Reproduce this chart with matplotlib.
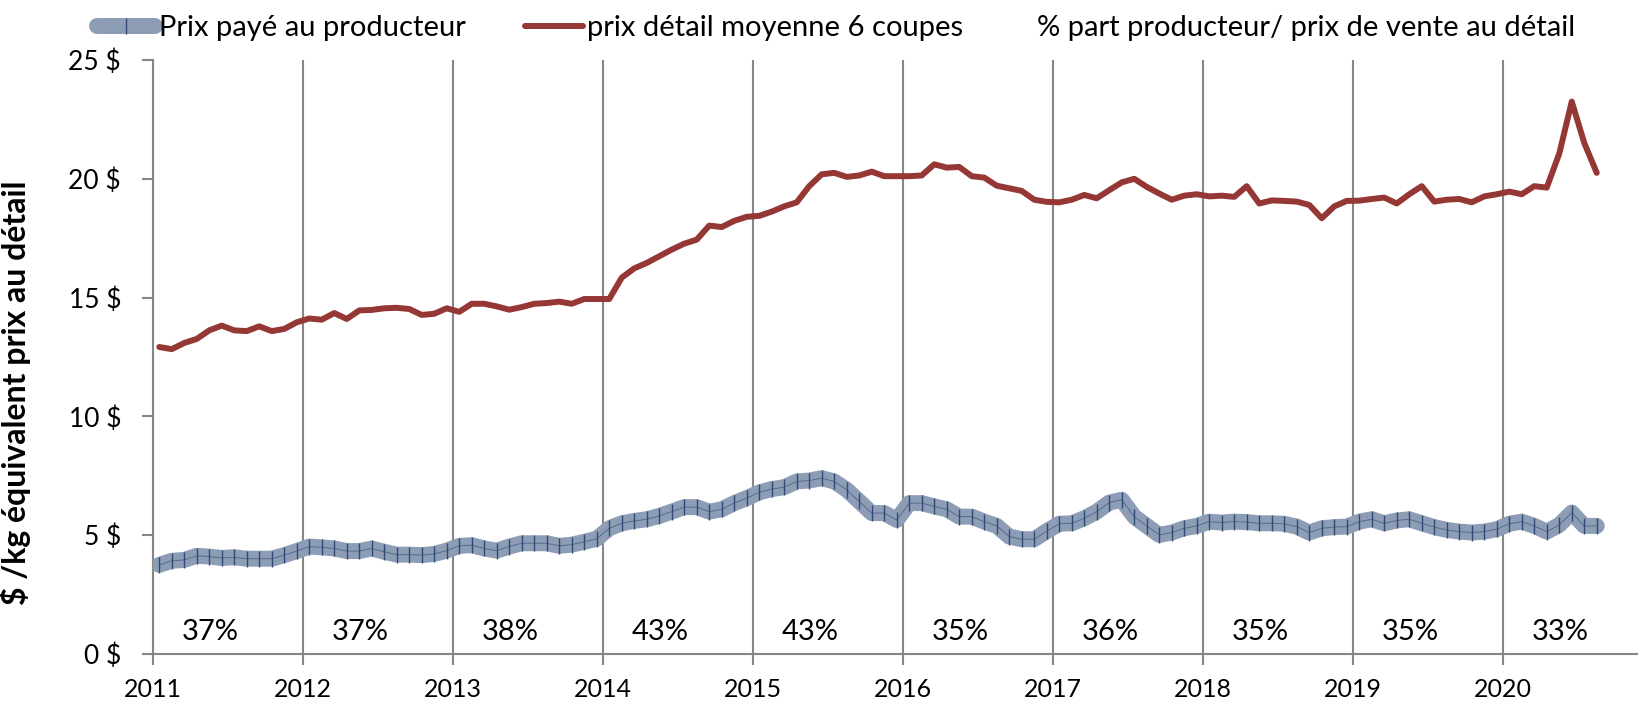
import numpy as np
import matplotlib
matplotlib.use("Agg")
import matplotlib.pyplot as plt

plt.rcParams['font.family'] = ['Lato', 'DejaVu Sans']

# monthly prices, Jan 2011 to Aug 2020 ($/kg retail equivalent)
retail = [12.92, 12.83, 13.09, 13.26, 13.62, 13.82, 13.62, 13.59, 13.79, 13.59, 13.68, 13.96,
          14.12, 14.07, 14.35, 14.10, 14.46, 14.48, 14.55, 14.57, 14.52, 14.27, 14.32, 14.55,
          14.40, 14.74, 14.74, 14.63, 14.49, 14.60, 14.74, 14.77, 14.83, 14.74, 14.94, 14.94,
          14.94, 15.84, 16.23, 16.46, 16.74, 17.02, 17.27, 17.44, 18.03, 17.97, 18.23, 18.40,
          18.44, 18.62, 18.84, 19.01, 19.69, 20.19, 20.25, 20.08, 20.14, 20.30, 20.11, 20.11,
          20.11, 20.14, 20.61, 20.47, 20.50, 20.11, 20.05, 19.71, 19.60, 19.49, 19.12, 19.03,
          19.01, 19.12, 19.32, 19.18, 19.52, 19.85, 20.00, 19.66, 19.38, 19.12, 19.29, 19.35,
          19.26, 19.29, 19.24, 19.69, 18.96, 19.09, 19.07, 19.04, 18.90, 18.34, 18.84, 19.07,
          19.08, 19.15, 19.21, 18.96, 19.35, 19.69, 19.04, 19.12, 19.15, 19.01, 19.26, 19.35,
          19.46, 19.35, 19.69, 19.63, 21.06, 23.25, 21.51, 20.25]

producer = [3.75, 3.92, 3.96, 4.13, 4.10, 4.04, 4.07, 4.01, 4.01, 4.01, 4.16, 4.33,
            4.52, 4.49, 4.44, 4.33, 4.33, 4.44, 4.30, 4.18, 4.18, 4.16, 4.21, 4.35,
            4.55, 4.58, 4.44, 4.35, 4.52, 4.66, 4.66, 4.66, 4.55, 4.60, 4.72, 4.85,
            5.29, 5.50, 5.60, 5.67, 5.81, 5.99, 6.18, 6.18, 5.99, 6.09, 6.35, 6.56,
            6.80, 6.94, 7.02, 7.26, 7.30, 7.40, 7.26, 6.91, 6.42, 5.93, 5.93, 5.64,
            6.35, 6.35, 6.21, 6.09, 5.78, 5.78, 5.57, 5.39, 4.94, 4.83, 4.83, 5.17,
            5.48, 5.50, 5.71, 5.99, 6.37, 6.49, 5.78, 5.39, 5.01, 5.11, 5.29, 5.39,
            5.57, 5.53, 5.57, 5.55, 5.50, 5.50, 5.48, 5.36, 5.11, 5.29, 5.34, 5.36,
            5.57, 5.67, 5.50, 5.62, 5.67, 5.50, 5.34, 5.22, 5.15, 5.11, 5.15, 5.25,
            5.48, 5.57, 5.39, 5.15, 5.43, 5.95, 5.39, 5.39]

years = list(range(2011, 2021))
share = ["37%", "37%", "38%", "43%", "43%", "35%", "36%", "35%", "35%", "33%"]

# each month sits in the middle of its slot
x = 2011 + (np.arange(len(retail)) + 0.5) / 12

fig = plt.figure(figsize=(16.38, 7.06), dpi=100)
ax = fig.add_axes([0.0934, 0.0737, 0.9066, 0.8413])

grey = '#868686'
navy = '#2e4a75'

# producer price: wide band with a cross-hatch look
band, = ax.plot(x, producer, color='#8e9db6', lw=11.5, solid_capstyle='round',
                solid_joinstyle='round', marker='|', markersize=11,
                markeredgecolor=navy, markeredgewidth=1.0, zorder=3)
ax.plot(x, producer, color=navy, lw=0.7, alpha=0.6, zorder=4)

red, = ax.plot(x, retail, color='#953735', lw=4.3, solid_capstyle='round',
               solid_joinstyle='round', zorder=5)

# yearly producer share written along the bottom
for yr, s in zip(years, share):
    ax.text(yr + 0.38, 0.92, s, ha='center', va='center', fontsize=21)

ax.set_xlim(2011, 2020.9)
ax.set_ylim(0, 25)
ax.set_xticks(years)
ax.set_xticklabels([str(y) for y in years])
ax.set_yticks(range(0, 26, 5))
ax.set_yticklabels([f"{v} $" for v in range(0, 26, 5)])
ax.xaxis.grid(True, color=grey, lw=1.5)
ax.set_axisbelow(True)

for side in ['top', 'right']:
    ax.spines[side].set_visible(False)
for side in ['left', 'bottom']:
    ax.spines[side].set_color(grey)
    ax.spines[side].set_linewidth(1.5)
ax.tick_params(axis='both', colors=grey, width=1.5, length=8, labelcolor='black')
ax.tick_params(axis='x', pad=9, labelsize=18)
ax.tick_params(axis='y', pad=15, labelsize=19)

ax.set_ylabel("$ /kg équivalent prix au détail", fontsize=23, fontweight='bold')
ax.yaxis.set_label_coords(-0.082, 0.44)

fig.legend([band, red],
           ["Prix payé au producteur", "prix détail moyenne 6 coupes"],
           loc='center left', bbox_to_anchor=(0.059, 0.96), ncol=2, frameon=False,
           borderpad=0, borderaxespad=0, fontsize=21, handlelength=2.0,
           handletextpad=0.15, columnspacing=2.0)
fig.text(0.633, 0.96, "% part producteur/ prix de vente au détail",
         ha='left', va='center', fontsize=21)

fig.savefig("out.png", dpi=100)
